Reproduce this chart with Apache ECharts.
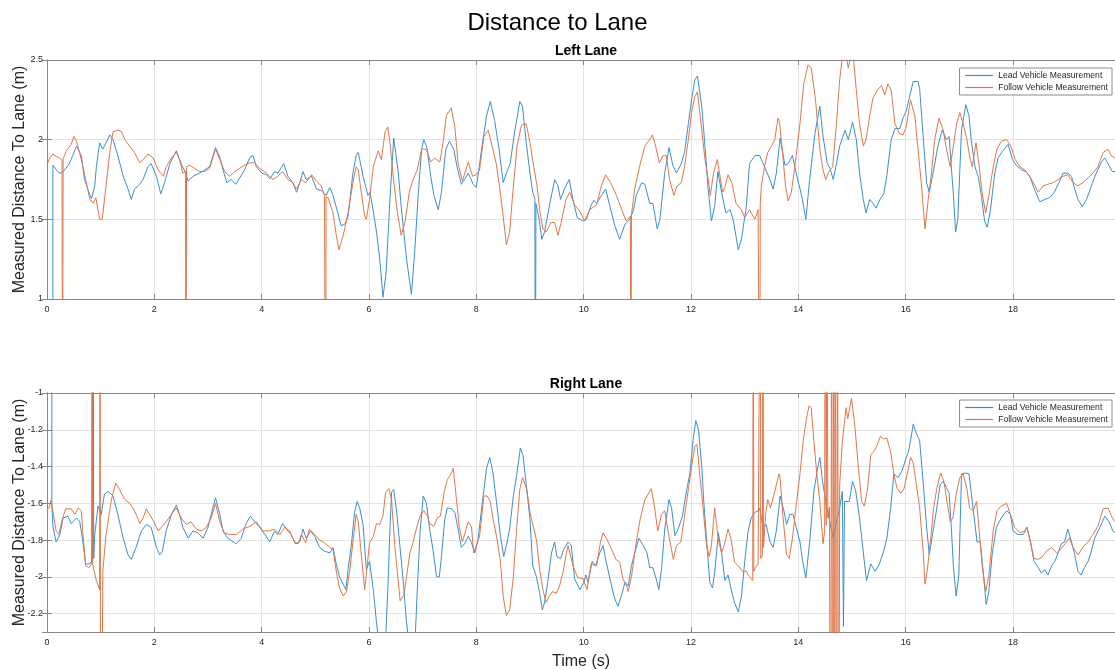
<!DOCTYPE html>
<html>
<head>
<meta charset="utf-8">
<title>Distance to Lane</title>
<script src="https://cdn.jsdelivr.net/npm/echarts@6/dist/echarts.min.js"></script>
<style>
html, body { margin: 0; padding: 0; background: #fff; }
#main { width: 1115px; height: 670px; }
</style>
</head>
<body>
<div id="main"></div>
<script>
// all series are [time (s), measured distance (m)]; dropouts read as 0 / -4 (off the plot)
var leadLeft = [[0.11,0],[0.11,1.84],[0.2,1.80],[0.24,1.79],[0.3,1.80],[0.4,1.84],[0.48,1.90],[0.55,1.96],[0.64,1.90],[0.7,1.75],[0.8,1.65],[0.83,1.63],[0.89,1.71],[0.92,1.83],[0.98,1.98],[1.04,1.94],[1.1,1.98],[1.17,2.03],[1.23,2.0],[1.32,1.90],[1.42,1.77],[1.51,1.69],[1.57,1.625],[1.63,1.69],[1.7,1.71],[1.79,1.75],[1.88,1.83],[1.94,1.85],[2.04,1.77],[2.12,1.66],[2.19,1.73],[2.29,1.85],[2.41,1.93],[2.5,1.85],[2.57,1.80],[2.63,1.74],[2.72,1.77],[2.84,1.79],[2.94,1.81],[3.03,1.83],[3.14,1.95],[3.22,1.89],[3.28,1.81],[3.35,1.73],[3.43,1.75],[3.52,1.72],[3.59,1.76],[3.68,1.81],[3.78,1.89],[3.84,1.90],[3.9,1.83],[4.0,1.79],[4.09,1.78],[4.15,1.755],[4.24,1.80],[4.3,1.79],[4.41,1.85],[4.49,1.77],[4.58,1.73],[4.65,1.67],[4.71,1.73],[4.77,1.80],[4.83,1.75],[4.93,1.77],[5.02,1.69],[5.11,1.68],[5.2,1.65],[5.27,1.70],[5.33,1.65],[5.42,1.54],[5.48,1.46],[5.55,1.47],[5.61,1.52],[5.7,1.79],[5.76,1.90],[5.8,1.92],[5.89,1.77],[5.98,1.65],[6.02,1.67],[6.08,1.55],[6.14,1.42],[6.2,1.25],[6.26,1.01],[6.32,1.17],[6.39,1.625],[6.46,2.01],[6.54,1.81],[6.6,1.58],[6.7,1.25],[6.79,1.03],[6.85,1.29],[6.92,1.67],[6.98,1.94],[7.02,2.0],[7.08,1.95],[7.15,1.77],[7.21,1.65],[7.29,1.56],[7.35,1.67],[7.43,1.94],[7.5,1.99],[7.58,1.94],[7.64,1.83],[7.72,1.72],[7.78,1.75],[7.85,1.79],[7.94,1.72],[8.0,1.70],[8.09,1.92],[8.19,2.15],[8.26,2.24],[8.34,2.12],[8.42,1.95],[8.5,1.73],[8.56,1.79],[8.63,1.85],[8.71,2.04],[8.81,2.24],[8.86,2.21],[8.93,1.98],[9.0,1.79],[9.05,1.67],[9.09,1.63],[9.1,0],[9.11,1.6],[9.17,1.5],[9.22,1.375],[9.27,1.42],[9.37,1.60],[9.46,1.75],[9.52,1.71],[9.57,1.625],[9.64,1.69],[9.73,1.75],[9.8,1.625],[9.88,1.51],[9.99,1.49],[10.05,1.5],[10.14,1.59],[10.19,1.62],[10.24,1.60],[10.33,1.65],[10.41,1.69],[10.49,1.58],[10.58,1.46],[10.67,1.375],[10.77,1.47],[10.86,1.5],[10.93,1.56],[10.98,1.65],[11.08,1.73],[11.14,1.72],[11.23,1.60],[11.29,1.60],[11.37,1.44],[11.42,1.5],[11.51,1.79],[11.59,1.95],[11.66,1.84],[11.73,1.79],[11.82,1.85],[11.88,1.92],[11.95,2.10],[12.01,2.25],[12.07,2.375],[12.12,2.40],[12.2,2.21],[12.26,1.96],[12.32,1.69],[12.38,1.49],[12.44,1.58],[12.5,1.80],[12.57,1.67],[12.65,1.54],[12.73,1.56],[12.79,1.49],[12.88,1.31],[12.94,1.375],[13.03,1.58],[13.09,1.85],[13.19,1.90],[13.28,1.90],[13.37,1.83],[13.47,1.75],[13.53,1.69],[13.59,1.79],[13.66,2.01],[13.75,1.84],[13.81,1.85],[13.89,1.90],[13.96,1.79],[14.06,1.65],[14.14,1.5],[14.21,1.75],[14.31,2.04],[14.4,2.21],[14.46,2.02],[14.54,1.85],[14.59,1.82],[14.65,1.75],[14.71,1.85],[14.77,1.96],[14.87,2.06],[14.93,2.0],[15.01,2.11],[15.08,2.0],[15.14,1.79],[15.21,1.625],[15.26,1.54],[15.33,1.625],[15.39,1.60],[15.45,1.57],[15.52,1.625],[15.59,1.66],[15.64,1.75],[15.73,2.0],[15.8,2.07],[15.89,2.07],[15.95,2.135],[16.01,2.18],[16.08,2.28],[16.14,2.365],[16.23,2.365],[16.26,2.32],[16.33,2.0],[16.39,1.73],[16.44,1.67],[16.51,1.79],[16.6,1.96],[16.68,2.06],[16.76,2.0],[16.81,2.02],[16.85,1.83],[16.89,1.65],[16.93,1.42],[16.97,1.5],[17.04,2.06],[17.12,2.22],[17.18,2.15],[17.22,2.0],[17.29,1.83],[17.35,1.77],[17.41,1.65],[17.47,1.49],[17.52,1.45],[17.58,1.56],[17.66,1.79],[17.72,1.885],[17.81,1.93],[17.91,1.97],[17.99,1.875],[18.06,1.84],[18.16,1.81],[18.24,1.80],[18.31,1.77],[18.41,1.68],[18.5,1.61],[18.59,1.625],[18.68,1.635],[18.77,1.67],[18.87,1.74],[18.93,1.79],[19.02,1.79],[19.09,1.77],[19.15,1.69],[19.21,1.625],[19.29,1.58],[19.37,1.625],[19.46,1.71],[19.55,1.79],[19.65,1.86],[19.71,1.885],[19.77,1.85],[19.85,1.80],[19.9,1.80]];

var followLeft = [[0,1.84],[0.05,1.885],[0.11,1.91],[0.17,1.895],[0.23,1.885],[0.28,1.87],[0.29,0],[0.3,1.88],[0.36,1.93],[0.45,1.97],[0.5,2.02],[0.55,1.99],[0.64,1.875],[0.72,1.75],[0.8,1.625],[0.86,1.60],[0.91,1.635],[0.98,1.5],[1.03,1.5],[1.1,1.71],[1.17,1.92],[1.23,2.05],[1.32,2.06],[1.39,2.05],[1.45,2.0],[1.54,1.96],[1.63,1.92],[1.73,1.855],[1.82,1.885],[1.88,1.91],[1.98,1.885],[2.07,1.81],[2.17,1.77],[2.22,1.83],[2.32,1.885],[2.41,1.92],[2.47,1.875],[2.53,1.79],[2.58,1.80],[2.59,0],[2.6,1.83],[2.66,1.84],[2.75,1.82],[2.84,1.80],[2.94,1.80],[3.03,1.82],[3.14,1.94],[3.22,1.875],[3.31,1.80],[3.4,1.77],[3.5,1.80],[3.59,1.82],[3.68,1.84],[3.78,1.855],[3.87,1.855],[3.96,1.82],[4.09,1.79],[4.21,1.75],[4.3,1.77],[4.39,1.80],[4.49,1.75],[4.58,1.73],[4.65,1.69],[4.74,1.75],[4.82,1.73],[4.93,1.78],[5.02,1.74],[5.11,1.71],[5.17,1.65],[5.19,1.64],[5.19,0],[5.2,1.64],[5.24,1.635],[5.33,1.54],[5.39,1.40],[5.44,1.31],[5.52,1.40],[5.61,1.54],[5.7,1.73],[5.76,1.83],[5.8,1.81],[5.86,1.66],[5.92,1.52],[5.95,1.5],[6.01,1.625],[6.08,1.83],[6.17,1.93],[6.23,1.875],[6.3,2.05],[6.35,2.08],[6.39,1.98],[6.45,1.77],[6.53,1.54],[6.6,1.40],[6.67,1.48],[6.75,1.67],[6.82,1.75],[6.9,1.81],[6.98,1.94],[7.07,1.94],[7.15,1.86],[7.22,1.885],[7.32,1.86],[7.38,1.98],[7.44,2.15],[7.53,2.20],[7.6,2.08],[7.66,1.85],[7.74,1.74],[7.85,1.86],[7.93,1.77],[8.0,1.78],[8.06,1.81],[8.14,2.02],[8.22,2.06],[8.28,1.98],[8.37,1.85],[8.43,1.71],[8.5,1.52],[8.56,1.34],[8.62,1.42],[8.68,1.67],[8.76,1.96],[8.84,2.09],[8.93,2.10],[9.0,1.98],[9.07,1.83],[9.13,1.71],[9.18,1.56],[9.24,1.44],[9.3,1.42],[9.39,1.48],[9.46,1.48],[9.52,1.40],[9.58,1.48],[9.67,1.625],[9.74,1.67],[9.83,1.59],[9.91,1.56],[10.02,1.49],[10.11,1.56],[10.24,1.59],[10.33,1.71],[10.41,1.78],[10.5,1.73],[10.61,1.65],[10.71,1.56],[10.79,1.49],[10.87,1.52],[10.88,0],[10.89,1.53],[10.95,1.69],[11.04,1.83],[11.14,1.96],[11.23,2.0],[11.28,2.03],[11.34,1.96],[11.41,1.855],[11.48,1.90],[11.54,1.90],[11.6,1.75],[11.68,1.65],[11.74,1.71],[11.82,1.73],[11.88,1.83],[11.95,2.0],[12.01,2.17],[12.07,2.27],[12.12,2.30],[12.2,2.06],[12.26,1.875],[12.32,1.75],[12.36,1.65],[12.42,1.79],[12.49,1.875],[12.54,1.77],[12.59,1.67],[12.63,1.70],[12.69,1.78],[12.76,1.73],[12.84,1.60],[12.94,1.56],[13.0,1.51],[13.09,1.56],[13.19,1.5],[13.25,1.56],[13.27,1.55],[13.28,0],[13.29,1.6],[13.31,1.71],[13.37,1.83],[13.43,1.92],[13.5,1.96],[13.56,2.0],[13.62,2.135],[13.65,2.11],[13.71,1.90],[13.76,1.71],[13.81,1.615],[13.87,1.67],[13.96,1.90],[14.03,2.10],[14.1,2.35],[14.18,2.47],[14.24,2.45],[14.32,2.25],[14.4,1.94],[14.46,1.81],[14.51,1.75],[14.57,1.80],[14.64,1.83],[14.71,2.10],[14.77,2.375],[14.82,2.52],[14.88,2.55],[14.93,2.45],[14.98,2.53],[15.03,2.5],[15.08,2.31],[15.14,2.10],[15.21,1.96],[15.26,2.0],[15.33,2.15],[15.39,2.26],[15.47,2.31],[15.55,2.34],[15.61,2.28],[15.67,2.35],[15.73,2.31],[15.8,2.10],[15.88,2.04],[15.95,2.03],[16.01,2.08],[16.09,2.25],[16.17,2.15],[16.23,1.94],[16.29,1.73],[16.36,1.44],[16.42,1.625],[16.48,1.79],[16.54,2.0],[16.62,2.135],[16.7,2.06],[16.76,1.94],[16.83,1.83],[16.88,1.94],[16.95,2.10],[17.01,2.17],[17.07,2.10],[17.13,2.02],[17.19,1.90],[17.24,1.83],[17.31,1.98],[17.37,1.83],[17.43,1.65],[17.49,1.54],[17.55,1.65],[17.63,1.83],[17.7,1.94],[17.78,1.99],[17.88,2.0],[17.96,1.96],[18.04,1.875],[18.13,1.83],[18.22,1.81],[18.31,1.77],[18.41,1.71],[18.47,1.67],[18.56,1.71],[18.65,1.72],[18.75,1.73],[18.84,1.75],[18.93,1.77],[19.02,1.78],[19.12,1.73],[19.21,1.71],[19.3,1.73],[19.4,1.76],[19.49,1.79],[19.58,1.83],[19.68,1.92],[19.77,1.94],[19.83,1.90],[19.9,1.885]];

var leadRight = [[0.09,0],[0.09,-1.6],[0.11,-1.725],[0.17,-1.81],[0.24,-1.77],[0.3,-1.68],[0.39,-1.67],[0.45,-1.71],[0.55,-1.68],[0.61,-1.70],[0.67,-1.81],[0.72,-1.93],[0.78,-1.93],[0.85,-1.915],[0.86,0],[0.87,-1.9],[0.89,-1.77],[0.95,-1.615],[1.01,-1.66],[1.07,-1.55],[1.14,-1.535],[1.23,-1.56],[1.32,-1.66],[1.42,-1.79],[1.51,-1.88],[1.57,-1.905],[1.66,-1.84],[1.76,-1.75],[1.85,-1.715],[1.94,-1.73],[2.04,-1.84],[2.1,-1.88],[2.15,-1.86],[2.22,-1.75],[2.32,-1.66],[2.41,-1.61],[2.47,-1.66],[2.53,-1.73],[2.63,-1.79],[2.72,-1.75],[2.81,-1.76],[2.91,-1.79],[3.0,-1.73],[3.09,-1.625],[3.14,-1.57],[3.22,-1.66],[3.28,-1.75],[3.37,-1.79],[3.47,-1.81],[3.53,-1.82],[3.62,-1.79],[3.71,-1.71],[3.79,-1.67],[3.87,-1.70],[3.96,-1.73],[4.06,-1.77],[4.15,-1.81],[4.24,-1.75],[4.3,-1.77],[4.39,-1.71],[4.46,-1.74],[4.55,-1.77],[4.63,-1.82],[4.71,-1.81],[4.77,-1.74],[4.83,-1.79],[4.91,-1.75],[4.99,-1.78],[5.08,-1.84],[5.17,-1.86],[5.27,-1.87],[5.33,-1.84],[5.39,-1.93],[5.45,-2.0],[5.52,-2.04],[5.57,-2.07],[5.61,-1.96],[5.67,-1.83],[5.73,-1.65],[5.78,-1.59],[5.83,-1.63],[5.89,-1.72],[5.95,-1.96],[6.01,-1.915],[6.08,-2.07],[6.14,-2.25],[6.2,-2.4],[6.3,-2.4],[6.35,-2.07],[6.39,-1.74],[6.42,-1.54],[6.46,-1.525],[6.51,-1.63],[6.57,-1.815],[6.64,-2.03],[6.7,-2.25],[6.76,-2.4],[6.85,-2.4],[6.9,-2.07],[6.95,-1.76],[7.01,-1.56],[7.07,-1.60],[7.13,-1.74],[7.19,-1.85],[7.26,-2.0],[7.31,-2.0],[7.35,-1.89],[7.41,-1.69],[7.46,-1.625],[7.54,-1.63],[7.6,-1.65],[7.66,-1.74],[7.72,-1.84],[7.78,-1.82],[7.85,-1.78],[7.91,-1.815],[7.97,-1.87],[8.03,-1.80],[8.11,-1.60],[8.19,-1.41],[8.25,-1.35],[8.31,-1.435],[8.37,-1.58],[8.45,-1.78],[8.51,-1.89],[8.56,-1.83],[8.62,-1.74],[8.69,-1.56],[8.75,-1.45],[8.82,-1.30],[8.87,-1.34],[8.94,-1.525],[9.0,-1.69],[9.05,-1.94],[9.12,-2.0],[9.18,-2.09],[9.23,-2.18],[9.27,-2.14],[9.33,-2.03],[9.4,-1.87],[9.46,-1.81],[9.5,-1.89],[9.57,-1.90],[9.63,-1.85],[9.71,-1.81],[9.77,-1.83],[9.83,-2.01],[9.93,-2.07],[10.0,-2.03],[10.04,-1.99],[10.08,-2.03],[10.16,-1.915],[10.22,-1.94],[10.3,-1.87],[10.36,-1.83],[10.42,-1.92],[10.52,-2.05],[10.58,-2.12],[10.64,-2.16],[10.7,-2.105],[10.77,-2.03],[10.83,-2.05],[10.89,-1.94],[10.97,-1.85],[11.03,-1.79],[11.11,-1.83],[11.18,-1.87],[11.23,-1.95],[11.29,-1.95],[11.35,-2.01],[11.4,-2.07],[11.45,-1.96],[11.51,-1.74],[11.59,-1.58],[11.64,-1.63],[11.7,-1.775],[11.76,-1.74],[11.84,-1.67],[11.9,-1.56],[11.98,-1.435],[12.04,-1.25],[12.09,-1.15],[12.14,-1.20],[12.2,-1.40],[12.24,-1.60],[12.29,-1.80],[12.35,-2.03],[12.4,-2.06],[12.44,-1.98],[12.51,-1.76],[12.57,-1.87],[12.63,-2.02],[12.69,-1.99],[12.75,-2.07],[12.81,-2.14],[12.88,-2.19],[12.94,-2.105],[13.0,-1.92],[13.06,-1.76],[13.12,-1.68],[13.19,-1.65],[13.25,-1.64],[13.28,-1.625],[13.34,-1.73],[13.4,-1.715],[13.47,-1.81],[13.53,-1.84],[13.59,-1.75],[13.66,-1.56],[13.73,-1.64],[13.78,-1.715],[13.84,-1.66],[13.9,-1.66],[13.96,-1.73],[14.03,-1.81],[14.08,-1.915],[14.14,-2.005],[14.21,-1.81],[14.29,-1.535],[14.35,-1.425],[14.4,-1.35],[14.45,-1.48],[14.51,-1.59],[14.57,-1.68],[14.65,-1.79],[14.71,-1.70],[14.77,-1.625],[14.82,-1.535],[14.84,-2.27],[14.86,-1.59],[14.89,-1.59],[14.95,-1.59],[15.01,-1.48],[15.07,-1.535],[15.14,-1.68],[15.2,-1.84],[15.27,-2.02],[15.35,-1.93],[15.43,-1.97],[15.51,-1.93],[15.59,-1.86],[15.65,-1.79],[15.72,-1.625],[15.78,-1.44],[15.86,-1.46],[15.93,-1.425],[15.99,-1.37],[16.05,-1.32],[16.09,-1.26],[16.14,-1.17],[16.2,-1.22],[16.26,-1.26],[16.33,-1.50],[16.39,-1.73],[16.44,-1.88],[16.5,-1.77],[16.58,-1.625],[16.64,-1.50],[16.7,-1.48],[16.76,-1.515],[16.81,-1.545],[16.85,-1.73],[16.89,-1.95],[16.94,-2.105],[16.99,-1.99],[17.04,-1.44],[17.1,-1.435],[17.18,-1.44],[17.26,-1.64],[17.33,-1.81],[17.39,-1.81],[17.45,-1.99],[17.5,-2.15],[17.55,-2.08],[17.61,-1.88],[17.69,-1.73],[17.78,-1.68],[17.88,-1.64],[17.95,-1.66],[18.0,-1.75],[18.09,-1.77],[18.19,-1.77],[18.26,-1.73],[18.33,-1.815],[18.39,-1.915],[18.47,-1.95],[18.53,-1.98],[18.59,-1.96],[18.65,-1.99],[18.72,-1.94],[18.78,-1.915],[18.84,-1.87],[18.9,-1.82],[18.96,-1.81],[19.02,-1.74],[19.09,-1.81],[19.15,-1.88],[19.21,-1.97],[19.27,-1.99],[19.33,-1.95],[19.4,-1.915],[19.46,-1.86],[19.52,-1.79],[19.62,-1.73],[19.71,-1.67],[19.79,-1.70],[19.86,-1.75],[19.9,-1.76]];

var followRight = [[0,-1.63],[0.04,-1.625],[0.07,-1.585],[0.11,-1.64],[0.17,-1.75],[0.22,-1.77],[0.29,-1.68],[0.35,-1.63],[0.45,-1.63],[0.52,-1.66],[0.58,-1.625],[0.64,-1.64],[0.67,-1.77],[0.72,-1.94],[0.78,-1.95],[0.83,-1.93],[0.84,0],[0.85,-1.93],[0.92,-2.02],[0.98,-2.07],[0.99,0],[1.0,-4],[1.04,-1.97],[1.1,-1.77],[1.2,-1.58],[1.28,-1.49],[1.35,-1.525],[1.45,-1.58],[1.54,-1.60],[1.6,-1.625],[1.66,-1.66],[1.73,-1.71],[1.79,-1.68],[1.85,-1.63],[1.91,-1.66],[1.99,-1.70],[2.07,-1.75],[2.15,-1.725],[2.22,-1.70],[2.32,-1.66],[2.41,-1.625],[2.5,-1.68],[2.6,-1.715],[2.68,-1.70],[2.78,-1.74],[2.88,-1.75],[2.97,-1.73],[3.06,-1.68],[3.14,-1.60],[3.22,-1.70],[3.3,-1.76],[3.4,-1.77],[3.53,-1.77],[3.65,-1.74],[3.78,-1.725],[3.9,-1.70],[4.02,-1.75],[4.15,-1.75],[4.24,-1.74],[4.34,-1.77],[4.43,-1.73],[4.52,-1.75],[4.61,-1.81],[4.68,-1.82],[4.74,-1.77],[4.82,-1.815],[4.89,-1.74],[4.99,-1.77],[5.08,-1.80],[5.17,-1.815],[5.27,-1.84],[5.33,-1.85],[5.39,-1.97],[5.45,-2.06],[5.52,-2.105],[5.58,-2.08],[5.64,-1.97],[5.7,-1.81],[5.76,-1.66],[5.8,-1.70],[5.86,-1.89],[5.92,-2.07],[5.95,-2.06],[6.01,-1.815],[6.08,-1.78],[6.14,-1.71],[6.2,-1.715],[6.26,-1.67],[6.31,-1.54],[6.37,-1.52],[6.42,-1.58],[6.48,-1.83],[6.54,-2.01],[6.58,-2.13],[6.65,-2.10],[6.7,-2.0],[6.76,-1.87],[6.82,-1.815],[6.88,-1.74],[6.95,-1.67],[7.02,-1.64],[7.09,-1.67],[7.13,-1.71],[7.21,-1.725],[7.27,-1.68],[7.33,-1.67],[7.4,-1.54],[7.46,-1.47],[7.51,-1.45],[7.57,-1.41],[7.63,-1.58],[7.68,-1.725],[7.74,-1.81],[7.81,-1.74],[7.85,-1.70],[7.91,-1.73],[7.95,-1.87],[8.0,-1.83],[8.06,-1.78],[8.14,-1.56],[8.2,-1.56],[8.26,-1.59],[8.32,-1.70],[8.39,-1.80],[8.45,-1.92],[8.5,-2.105],[8.56,-2.21],[8.62,-2.18],[8.69,-2.0],[8.75,-1.74],[8.81,-1.525],[8.86,-1.46],[8.94,-1.525],[9.0,-1.65],[9.06,-1.725],[9.12,-1.80],[9.18,-1.96],[9.24,-2.07],[9.3,-2.14],[9.35,-2.11],[9.42,-2.08],[9.49,-2.09],[9.55,-2.05],[9.62,-1.97],[9.67,-1.88],[9.71,-1.83],[9.8,-1.94],[9.89,-2.005],[9.99,-2.01],[10.06,-2.07],[10.14,-1.93],[10.24,-1.94],[10.31,-1.815],[10.36,-1.76],[10.44,-1.80],[10.52,-1.85],[10.6,-1.905],[10.67,-1.92],[10.73,-2.01],[10.8,-2.05],[10.83,-2.08],[10.89,-2.0],[10.97,-1.83],[11.05,-1.69],[11.14,-1.58],[11.2,-1.55],[11.26,-1.52],[11.32,-1.62],[11.38,-1.75],[11.45,-1.66],[11.51,-1.64],[11.59,-1.78],[11.67,-1.905],[11.73,-1.83],[11.81,-1.81],[11.87,-1.69],[11.95,-1.525],[12.01,-1.40],[12.07,-1.29],[12.11,-1.28],[12.16,-1.435],[12.22,-1.61],[12.29,-1.83],[12.34,-1.89],[12.38,-1.83],[12.44,-1.625],[12.51,-1.80],[12.57,-1.87],[12.63,-1.815],[12.69,-1.74],[12.75,-1.80],[12.81,-1.92],[12.88,-1.94],[12.96,-1.97],[13.03,-1.97],[13.09,-2.0],[13.15,-2.02],[13.16,0],[13.17,-1.97],[13.2,-1.95],[13.25,-1.93],[13.28,-1.92],[13.29,0],[13.3,-1.90],[13.33,-1.88],[13.34,0],[13.35,-1.84],[13.39,-1.66],[13.43,-1.58],[13.48,-1.625],[13.53,-1.57],[13.59,-1.50],[13.64,-1.44],[13.66,-1.46],[13.71,-1.66],[13.78,-1.88],[13.83,-1.90],[13.89,-1.79],[13.96,-1.61],[14.03,-1.44],[14.09,-1.26],[14.15,-1.14],[14.2,-1.07],[14.24,-1.08],[14.29,-1.26],[14.34,-1.43],[14.4,-1.59],[14.46,-1.82],[14.49,-1.75],[14.5,0],[14.52,-1.72],[14.53,0],[14.55,-1.68],[14.58,-1.62],[14.6,-4],[14.62,0],[14.64,-4],[14.66,0],[14.67,-4],[14.69,0],[14.71,-4],[14.73,0],[14.75,-4],[14.77,-1.50],[14.82,-1.26],[14.89,-1.08],[14.92,-1.14],[14.99,-1.03],[15.05,-1.17],[15.12,-1.41],[15.18,-1.59],[15.23,-1.615],[15.29,-1.52],[15.35,-1.335],[15.4,-1.32],[15.46,-1.29],[15.53,-1.235],[15.59,-1.25],[15.65,-1.245],[15.72,-1.32],[15.78,-1.44],[15.84,-1.52],[15.91,-1.545],[15.97,-1.52],[16.03,-1.44],[16.09,-1.35],[16.14,-1.38],[16.2,-1.50],[16.26,-1.625],[16.33,-1.88],[16.36,-2.04],[16.4,-1.97],[16.46,-1.81],[16.52,-1.625],[16.58,-1.52],[16.65,-1.435],[16.71,-1.48],[16.77,-1.59],[16.83,-1.70],[16.88,-1.68],[16.94,-1.55],[17.01,-1.46],[17.07,-1.44],[17.14,-1.52],[17.19,-1.625],[17.26,-1.64],[17.32,-1.59],[17.37,-1.75],[17.43,-1.95],[17.49,-2.08],[17.55,-1.99],[17.63,-1.75],[17.7,-1.64],[17.78,-1.615],[17.88,-1.60],[17.95,-1.66],[18.03,-1.73],[18.13,-1.76],[18.22,-1.75],[18.26,-1.73],[18.33,-1.82],[18.39,-1.90],[18.47,-1.905],[18.55,-1.89],[18.62,-1.86],[18.72,-1.84],[18.81,-1.87],[18.89,-1.85],[18.97,-1.82],[19.05,-1.79],[19.12,-1.84],[19.21,-1.88],[19.3,-1.84],[19.4,-1.81],[19.49,-1.77],[19.58,-1.725],[19.68,-1.63],[19.77,-1.625],[19.85,-1.68],[19.9,-1.70]];

var legendNames = ['Lead Vehicle Measurement', 'Follow Vehicle Measurement'];
var panelTitles = ['Left Lane', 'Right Lane'];
var timeRange = [0, 19.9];
var leftRange = [1, 2.5];
var rightRange = [-2.3, -1];

var chart = echarts.init(document.getElementById('main'));
var font = '"Liberation Sans", Arial, sans-serif';
var textColor = '#262626';
var axisColor = '#868686';
var gridColor = '#e3e3e3';
var leadColor = '#3b8ed0';
var followColor = '#e0764a';

var grids = [
  { left: 47, top: 60, width: 1068, height: 239, outerBoundsMode: 'none', containLabel: false },
  { left: 47, top: 393, width: 1068, height: 239, outerBoundsMode: 'none', containLabel: false }
];

// main axes (with labels) plus a mirror axis for the box + inner ticks
function xAxes(gi, withName) {
  var main = {
    type: 'value', gridIndex: gi, position: 'bottom',
    min: timeRange[0], max: timeRange[1], minInterval: 2, maxInterval: 2,
    axisLine: { show: true, lineStyle: { color: axisColor, width: 1 } },
    axisTick: { inside: true, length: 5, lineStyle: { color: axisColor } },
    axisLabel: { color: textColor, fontSize: 9, fontFamily: font, margin: 6, showMaxLabel: false },
    splitLine: { show: true, lineStyle: { color: gridColor, width: 1 } }
  };
  if (withName) {
    main.name = 'Time (s)';
    main.nameLocation = 'middle';
    main.nameGap = 22;
    main.nameMoveOverlap = false;
    main.nameTextStyle = { color: textColor, fontSize: 16, fontFamily: font };
  }
  var mirror = {
    type: 'value', gridIndex: gi, position: 'top',
    min: timeRange[0], max: timeRange[1], minInterval: 2, maxInterval: 2,
    axisLine: { show: true, lineStyle: { color: axisColor, width: 1 } },
    axisTick: { inside: true, length: 5, lineStyle: { color: axisColor } },
    axisLabel: { show: false },
    splitLine: { show: false }
  };
  return [main, mirror];
}

function yAxes(gi, range, step) {
  var common = {
    type: 'value', gridIndex: gi,
    min: range[0], max: range[1], minInterval: step, maxInterval: step,
    axisLine: { show: true, lineStyle: { color: axisColor, width: 1 } },
    axisTick: { show: true, inside: true, length: 5, lineStyle: { color: axisColor } }
  };
  var main = Object.assign({}, common, {
    position: 'left',
    name: 'Measured Distance To Lane (m)',
    nameLocation: 'middle',
    nameGap: 19,
    nameMoveOverlap: false,
    nameTextStyle: { color: textColor, fontSize: 16, fontFamily: font },
    axisLabel: { color: textColor, fontSize: 9, fontFamily: font, margin: 4, showMinLabel: range[0] % step === 0 },
    splitLine: { show: true, lineStyle: { color: gridColor, width: 1 } }
  });
  var mirror = Object.assign({}, common, {
    position: 'right',
    axisLabel: { show: false },
    splitLine: { show: false }
  });
  return [main, mirror];
}

function laneSeries(name, data, color, axisIndex) {
  return {
    name: name,
    type: 'line',
    data: data,
    xAxisIndex: axisIndex,
    yAxisIndex: axisIndex,
    symbol: 'none',
    showSymbol: false,
    clip: true,
    lineStyle: { color: color, width: 1 },
    itemStyle: { color: color },
    emphasis: { disabled: true }
  };
}

// legend keeps the plain line sample, the symbol part is hidden
function legendAt(top) {
  return {
    data: [
      { name: legendNames[0], lineStyle: { color: leadColor, width: 1.2, opacity: 1 } },
      { name: legendNames[1], lineStyle: { color: followColor, width: 1.2, opacity: 1 } }
    ],
    orient: 'vertical',
    right: 3,
    top: top,
    itemWidth: 28,
    itemHeight: 11,
    itemGap: 1,
    itemStyle: { opacity: 0 },
    padding: [2, 4, 2, 5],
    backgroundColor: '#fff',
    borderColor: '#8c8c8c',
    borderWidth: 1,
    borderRadius: 0,
    selectedMode: false,
    textStyle: { color: textColor, fontSize: 8.6, fontFamily: font, lineHeight: 11 }
  };
}

var option = {
  animation: false,
  backgroundColor: '#fff',
  title: [
    { text: 'Distance to Lane', left: 'center', top: 6,
      textStyle: { fontSize: 24, fontWeight: 'normal', color: '#000', fontFamily: font } },
    { text: panelTitles[0], left: 581, top: 39, textAlign: 'center',
      textStyle: { fontSize: 14, fontWeight: 'bold', color: '#000', fontFamily: font } },
    { text: panelTitles[1], left: 581, top: 372, textAlign: 'center',
      textStyle: { fontSize: 14, fontWeight: 'bold', color: '#000', fontFamily: font } }
  ],
  legend: [legendAt(68), legendAt(400)],
  grid: grids,
  xAxis: xAxes(0, false).concat(xAxes(1, true)),
  yAxis: yAxes(0, leftRange, 0.5).concat(yAxes(1, rightRange, 0.2)),
  series: [
    laneSeries(legendNames[0], leadLeft, leadColor, 0),
    laneSeries(legendNames[1], followLeft, followColor, 0),
    laneSeries(legendNames[0], leadRight, leadColor, 2),
    laneSeries(legendNames[1], followRight, followColor, 2)
  ]
};

chart.setOption(option);
</script>
</body>
</html>
